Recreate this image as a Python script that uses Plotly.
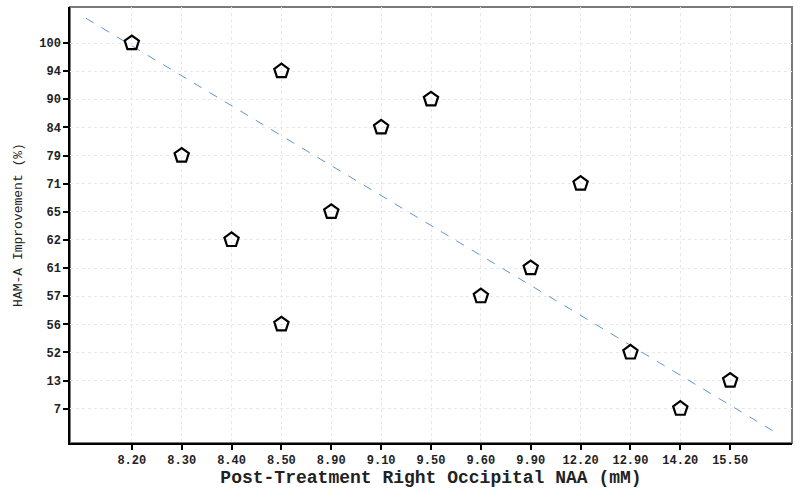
import plotly.graph_objects as go

# categorias de los ejes (orden en que aparecen)
naa_categorias = ["8.20", "8.30", "8.40", "8.50", "8.90", "9.10", "9.50",
                  "9.60", "9.90", "12.20", "12.90", "14.20", "15.50"]
hama_categorias = ["7", "13", "52", "56", "57", "61", "62",
                   "65", "71", "79", "84", "90", "94", "100"]

# puntos observados
naa_valores = ["8.20", "8.30", "8.40", "8.50", "8.50", "8.90", "9.10",
               "9.50", "9.60", "9.90", "12.20", "12.90", "14.20", "15.50"]
hama_valores = ["100", "79", "62", "94", "56", "65", "84",
                "90", "57", "61", "71", "52", "7", "13"]

# linea de tendencia (en posiciones de categoria)
tendencia_x = [-0.92, 12.99]
tendencia_y = [13.88, -0.93]

x_pos = [naa_categorias.index(v) for v in naa_valores]
y_pos = [hama_categorias.index(v) for v in hama_valores]

fuente = "Liberation Mono, Courier New, monospace"

fig = go.Figure()

fig.add_trace(go.Scatter(
    x=tendencia_x,
    y=tendencia_y,
    mode='lines',
    line=dict(color='#5f95d0', width=1, dash='dash'),
    hoverinfo='skip'
))

fig.add_trace(go.Scatter(
    x=x_pos,
    y=y_pos,
    mode='markers',
    marker=dict(symbol='pentagon-open', size=15, color='black',
                line=dict(color='black', width=2.2))
))

eje_comun = dict(
    automargin=False,
    showgrid=True,
    gridcolor='#e8e8e8',
    griddash='dot',
    gridwidth=1,
    zeroline=False,
    showline=True,
    linecolor='black',
    linewidth=1.5,
    ticks='outside',
    ticklen=5,
    tickwidth=1.5,
    tickcolor='black',
    tickfont=dict(family=fuente, size=12, color='#222', weight='bold'),
)

fig.update_layout(
    width=800,
    height=491,
    margin=dict(l=70, r=8, t=7, b=48),
    plot_bgcolor='white',
    paper_bgcolor='white',
    showlegend=False,
    xaxis=dict(
        eje_comun,
        range=[-1.24, 13.24],
        tickmode='array',
        tickvals=list(range(len(naa_categorias))),
        ticktext=naa_categorias,
        title=dict(text="Post-Treatment Right Occipital NAA (mM)",
                   font=dict(family=fuente, size=18, color='#222', weight='bold'),
                   standoff=2),
    ),
    yaxis=dict(
        eje_comun,
        range=[-1.22, 14.28],
        tickmode='array',
        tickvals=list(range(len(hama_categorias))),
        ticktext=hama_categorias,
        title=dict(text="HAM-A Improvement (%)",
                   font=dict(family=fuente, size=13, color='#222'),
                   standoff=14),
    ),
    shapes=[dict(type='rect', xref='paper', yref='paper', x0=0, y0=0, x1=1, y1=1,
                 line=dict(color='#7a7a7a', width=2), layer='below')],
)

fig.write_html("out.html", config={'displayModeBar': False},
               post_script="document.body.style.margin='0';")
